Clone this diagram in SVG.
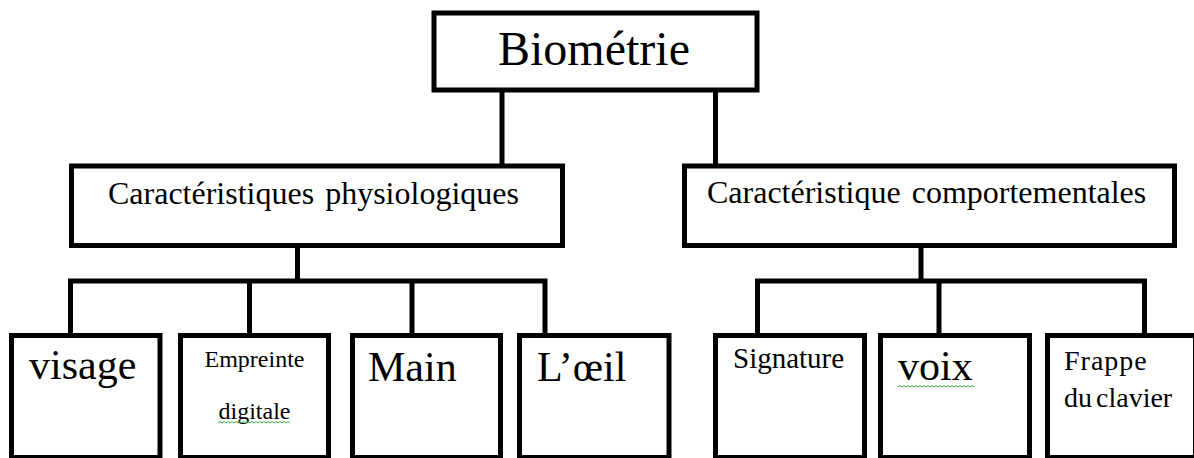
<svg xmlns="http://www.w3.org/2000/svg" width="1194" height="458" viewBox="0 0 1194 458">
  <style>
    .box { fill: #ffffff; stroke: #000000; stroke-width: 5; stroke-linejoin: miter; }
    .wire { fill: none; stroke: #000000; stroke-width: 5; stroke-linejoin: miter; stroke-linecap: butt; }
    .t { font-family: "Liberation Serif", "Times New Roman", serif; fill: #000000; }
    .squiggle { fill: none; stroke: #3cb043; stroke-width: 1; }
  </style>
  <rect width="1194" height="458" fill="#ffffff"/>

  <!-- connectors -->
  <g id="connectors">
    <path class="wire" d="M502,90 V166"/>
    <path class="wire" d="M715.5,90 V166"/>
    <path class="wire" d="M297.5,245 V281"/>
    <path class="wire" d="M70.5,336 V281 H545 V336"/>
    <path class="wire" d="M249.5,281 V336"/>
    <path class="wire" d="M412,281 V336"/>
    <path class="wire" d="M921,245 V281"/>
    <path class="wire" d="M757.5,336 V281 H1144.5 V336"/>
    <path class="wire" d="M939,281 V336"/>
  </g>

  <g id="biometrie">
    <rect class="box" x="434" y="13" width="323" height="77"/>
    <text class="t" x="498" y="65" font-size="48">Biométrie</text>
  </g>

  <g id="physiologiques">
    <rect class="box" x="71.5" y="166" width="491" height="79.5"/>
    <text class="t" x="108" y="204" font-size="32" word-spacing="3">Caractéristiques physiologiques</text>
  </g>

  <g id="comportementales">
    <rect class="box" x="684.5" y="166" width="490" height="79.5"/>
    <text class="t" x="707" y="203" font-size="32" word-spacing="3">Caractéristique comportementales</text>
  </g>

  <g id="visage">
    <rect class="box" x="11.5" y="335.5" width="148.5" height="122"/>
    <text class="t" x="29" y="379" font-size="42">visage</text>
  </g>

  <g id="empreinte">
    <rect class="box" x="180.5" y="335.5" width="148" height="122"/>
    <text class="t" x="254.5" y="367" font-size="24" text-anchor="middle">Empreinte</text>
    <text class="t" x="254.5" y="419" font-size="24" text-anchor="middle">digitale</text>
    <path class="squiggle" d="M218,423 l2,-1.5 l2,1.5 l2,-1.5 l2,1.5 l2,-1.5 l2,1.5 l2,-1.5 l2,1.5 l2,-1.5 l2,1.5 l2,-1.5 l2,1.5 l2,-1.5 l2,1.5 l2,-1.5 l2,1.5 l2,-1.5 l2,1.5 l2,-1.5 l2,1.5 l2,-1.5 l2,1.5 l2,-1.5 l2,1.5 l2,-1.5 l2,1.5 l2,-1.5 l2,1.5 l2,-1.5 l2,1.5 l2,-1.5 l2,1.5 l2,-1.5 l2,1.5 l2,-1.5 l2,1.5"/>
  </g>

  <g id="main">
    <rect class="box" x="352.5" y="335.5" width="148" height="122"/>
    <text class="t" x="368" y="381" font-size="42">Main</text>
  </g>

  <g id="oeil">
    <rect class="box" x="519.5" y="335.5" width="149.5" height="122"/>
    <text class="t" x="537" y="381" font-size="42">L’œil</text>
  </g>

  <g id="signature">
    <rect class="box" x="715.5" y="335.5" width="149" height="122"/>
    <text class="t" x="733" y="368" font-size="29">Signature</text>
  </g>

  <g id="voix">
    <rect class="box" x="880.5" y="335.5" width="149" height="122"/>
    <text class="t" x="898" y="380" font-size="42">voix</text>
    <path class="squiggle" d="M898,387 l2,-1.5 l2,1.5 l2,-1.5 l2,1.5 l2,-1.5 l2,1.5 l2,-1.5 l2,1.5 l2,-1.5 l2,1.5 l2,-1.5 l2,1.5 l2,-1.5 l2,1.5 l2,-1.5 l2,1.5 l2,-1.5 l2,1.5 l2,-1.5 l2,1.5 l2,-1.5 l2,1.5 l2,-1.5 l2,1.5 l2,-1.5 l2,1.5 l2,-1.5 l2,1.5 l2,-1.5 l2,1.5 l2,-1.5 l2,1.5 l2,-1.5 l2,1.5 l2,-1.5 l2,1.5 l2,-1.5 l2,1.5"/>
  </g>

  <g id="frappe">
    <rect class="box" x="1047.5" y="335.5" width="148" height="122"/>
    <text class="t" x="1064" y="370" font-size="28" letter-spacing="1">Frappe</text>
    <text class="t" x="1064" y="407" font-size="28" word-spacing="-3">du clavier</text>
  </g>
</svg>
